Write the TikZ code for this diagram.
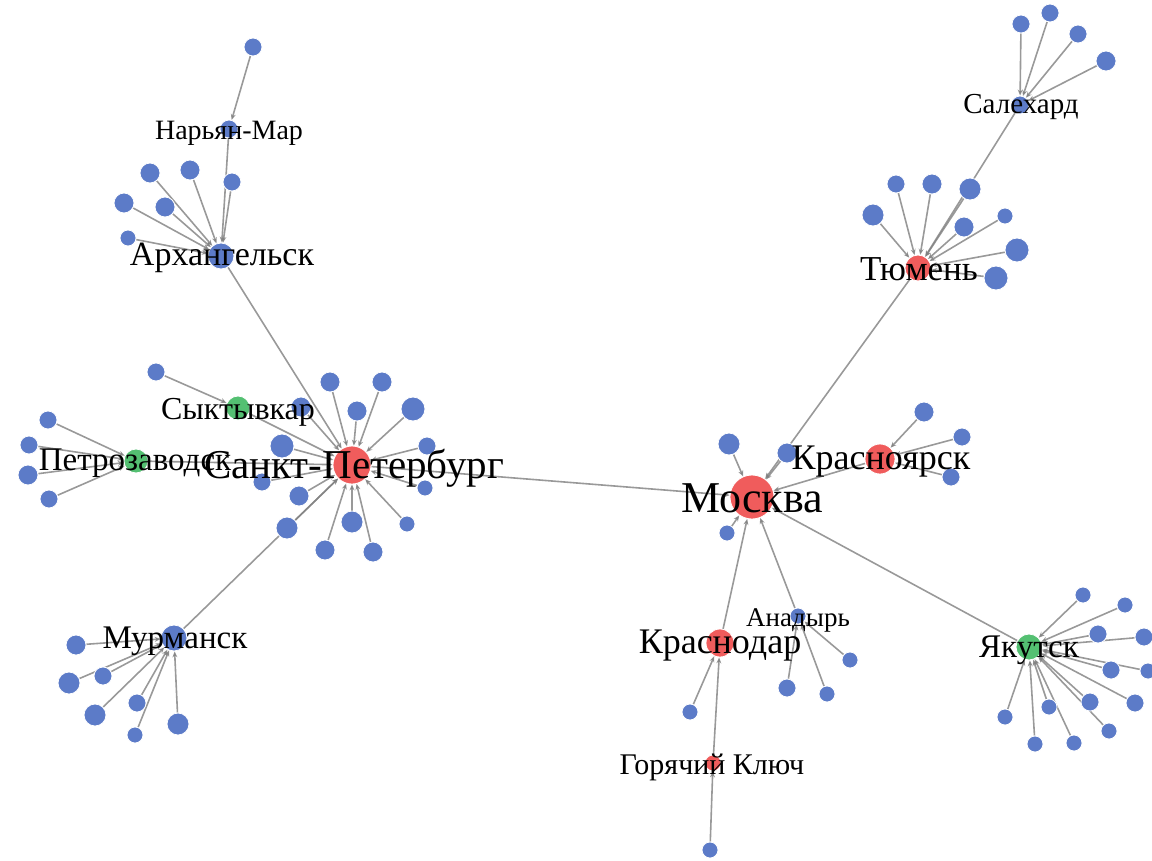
\documentclass[tikz,border=0pt]{standalone}
\usepackage{fontspec}
\setmainfont{Liberation Serif}
\usetikzlibrary{arrows.meta}
\pgfdeclarelayer{background}
\pgfsetlayers{background,main}

\definecolor{nblue}{RGB}{92,123,200}
\definecolor{nred}{RGB}{240,92,92}
\definecolor{ngreen}{RGB}{84,192,114}

\begin{document}
\begin{tikzpicture}[x=1pt,y=-1pt,
    city/.style={circle,inner sep=0pt,draw=white,line width=0.8pt,minimum size=#1},
    leaf/.style={city=#1,fill=nblue},
    edge/.style={draw=gray,line width=1.6pt,opacity=.8,-{Stealth[length=6pt,width=5pt]}},
    lbl/.style={inner sep=0pt,font=\fontsize{#1}{#1}\selectfont}]
\useasboundingbox (0,0) rectangle (1152,860);

% hubs
\node[city=44pt,fill=nred] (msk) at (752,497) {};
\node[city=38pt,fill=nred] (spb) at (352,465) {};
\node[city=26pt,fill=nblue] (arh) at (221,256) {};
\node[city=18pt,fill=nblue] (nmar) at (229,129) {};
\node[city=24pt,fill=ngreen] (sykt) at (238,408) {};
\node[city=24pt,fill=ngreen] (ptz) at (136,461) {};
\node[city=26pt,fill=nblue] (murm) at (174,638) {};
\node[city=26pt,fill=nred] (tyum) at (918,268) {};
\node[city=18pt,fill=nblue] (salh) at (1020,105) {};
\node[city=30pt,fill=nred] (krsk) at (880,459) {};
\node[city=28pt,fill=nred] (krd) at (720,643) {};
\node[city=16pt,fill=nred] (gkl) at (713,763) {};
\node[city=16pt,fill=nblue] (anad) at (798,616) {};
\node[city=26pt,fill=ngreen] (yak) at (1029,647) {};

\begin{pgfonlayer}{background}
\foreach \a/\b in {nmar/arh,arh/spb,sykt/spb,ptz/spb,murm/spb,spb/msk,
                   salh/tyum,tyum/msk,krsk/msk,krd/msk,gkl/krd,anad/msk,yak/msk}
  \draw[edge] (\a) -- (\b);
\end{pgfonlayer}

% leaves, hub/list
\foreach \hub/\pts in {
  nmar/{253/47/9},
  arh/{150/173/10,190/170/10,232/182/9,124/203/10,165/207/10,128/238/8},
  sykt/{156/372/9},
  ptz/{48/420/9,29/445/9,28/475/10,49/499/9},
  spb/{330/382/10,382/382/10,357/411/10,413/409/12,301/407/10,282/446/12,427/446/9,262/482/9,
       425/488/8,299/496/10,287/528/11,352/522/11,407/524/8,325/550/10,373/552/10},
  murm/{76/645/10,69/683/11,103/676/9,95/715/11,137/703/9,135/735/8,178/724/11},
  salh/{1021/24/9,1050/13/9,1078/34/9,1106/61/10},
  tyum/{873/215/11,896/184/9,932/184/10,970/189/11,964/227/10,1005/216/8,1017/250/12,996/278/12},
  krsk/{924/412/10,962/437/9,951/477/9},
  msk/{729/444/11,787/453/10,727/533/8},
  krd/{690/712/8},
  gkl/{710/850/8},
  anad/{850/660/8,787/688/9,827/694/8},
  yak/{1083/595/8,1125/605/8,1098/634/9,1144/637/9,1111/670/9,1148/671/8,1090/702/9,
       1135/703/9,1049/707/8,1005/717/8,1109/731/8,1035/744/8,1074/743/8}}
{
  \foreach \x/\y/\r [count=\i] in \pts {
    \node[leaf=2*\r pt] (\hub-\i) at (\x,\y) {};
    \begin{pgfonlayer}{background}
      \draw[edge] (\hub-\i) -- (\hub);
    \end{pgfonlayer}
  }
}

% names
\node[lbl=44] (msk-t) at (752,498) {Москва};
\node[lbl=41] (spb-t) at (354,468) {Санкт-Петербург};
\node[lbl=34] (arh-t) at (222,258) {Архангельск};
\node[lbl=28] (nmar-t) at (229,133) {Нарьян-Мар};
\node[lbl=32] (sykt-t) at (238,412) {Сыктывкар};
\node[lbl=33] (ptz-t) at (135,463) {Петрозаводск};
\node[lbl=33] (murm-t) at (175,641) {Мурманск};
\node[lbl=35] (tyum-t) at (919,269) {Тюмень};
\node[lbl=29] (salh-t) at (1021,107) {Салехард};
\node[lbl=36] (krsk-t) at (881,462) {Красноярск};
\node[lbl=36] (krd-t) at (720,646) {Краснодар};
\node[lbl=30] (gkl-t) at (712,767) {Горячий Ключ};
\node[lbl=27] (anad-t) at (798,620) {Анадырь};
\node[lbl=33] (yak-t) at (1029,650) {Якутск};
\end{tikzpicture}
\end{document}
